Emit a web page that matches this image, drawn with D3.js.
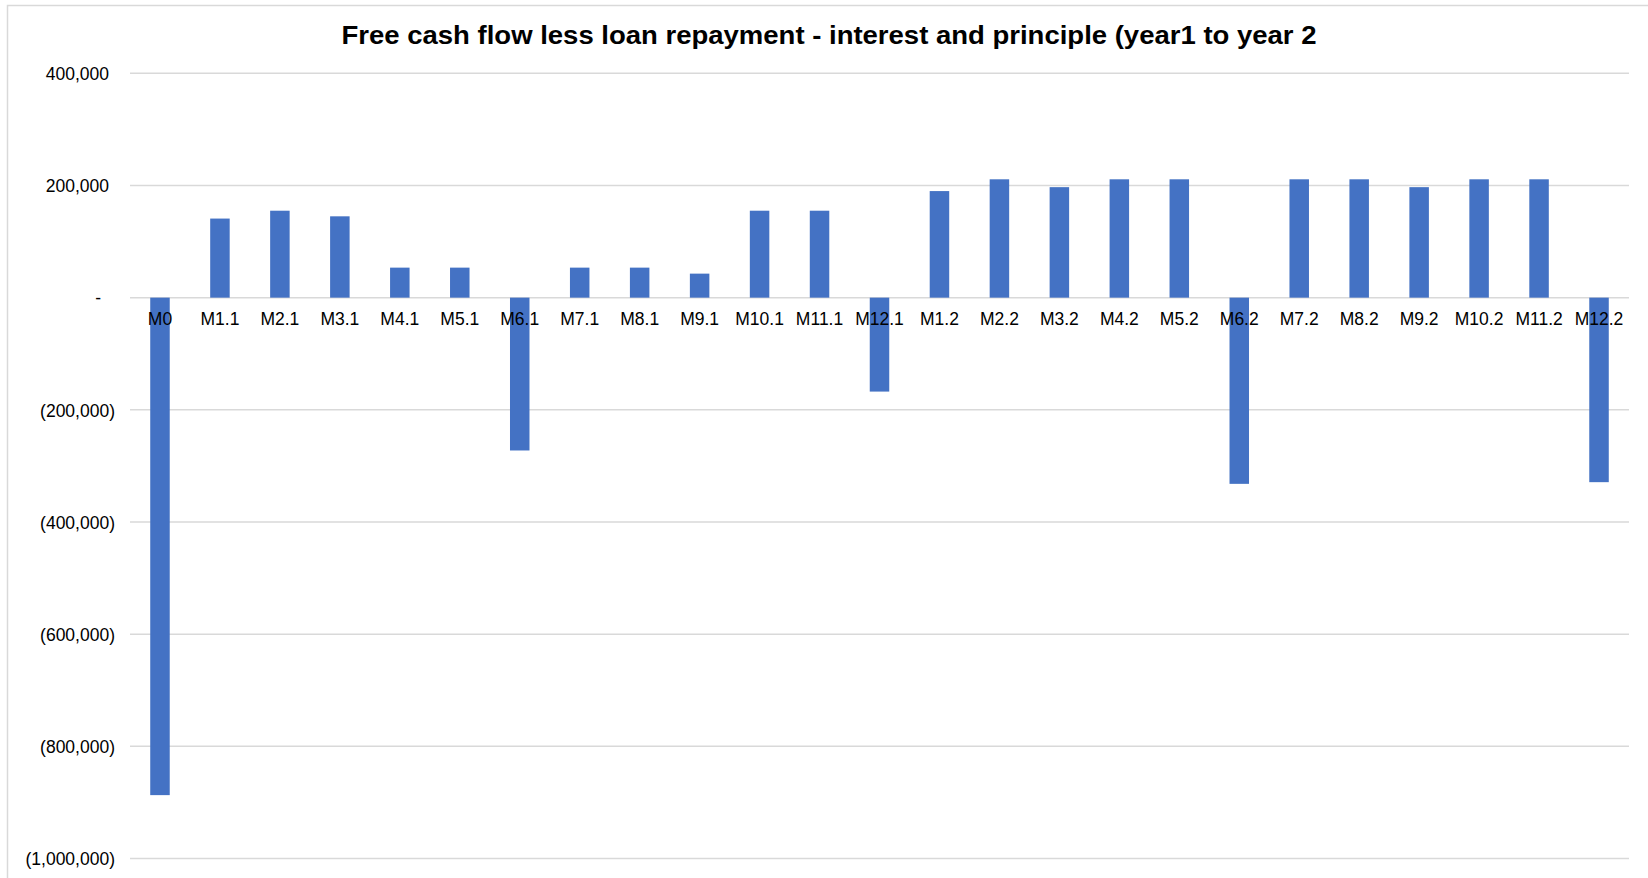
<!DOCTYPE html>
<html>
<head>
<meta charset="utf-8">
<title>Free cash flow less loan repayment</title>
<script src="https://d3js.org/d3.v7.min.js"></script>
<style>
  body { margin: 0; background: #fff; }
  svg text { font-family: "Liberation Sans", Arial, sans-serif; fill: #000; }
</style>
</head>
<body>
<script>
// categories (month.year) and free cash flow values
const months = ["M0", "M1.1", "M2.1", "M3.1", "M4.1", "M5.1", "M6.1", "M7.1", "M8.1", "M9.1", "M10.1", "M11.1", "M12.1",
                "M1.2", "M2.2", "M3.2", "M4.2", "M5.2", "M6.2", "M7.2", "M8.2", "M9.2", "M10.2", "M11.2", "M12.2"];
const cashFlow = [-887000, 141000, 155000, 145000, 53500, 53500, -272500, 53500, 53500, 42800, 155000, 155000, -167500,
                  190000, 211000, 197000, 211000, 211000, -332000, 211000, 211000, 197000, 211000, 211000, -329000];
const yTicks = [400000, 200000, 0, -200000, -400000, -600000, -800000, -1000000];
const title = "Free cash flow less loan repayment - interest and principle (year1 to year 2";

const width = 1648, height = 878;
const plotLeft = 130, plotRight = 1629, plotTop = 73.3, plotBottom = 858.5;

const svg = d3.select('body').append('svg').attr('width', width).attr('height', height);

// chart area border (right and bottom edges fall outside the picture)
svg.append('rect')
    .attr('x', 7.5).attr('y', 5.5).attr('width', 1700).attr('height', 900)
    .attr('fill', 'none').attr('stroke', '#d9d9d9').attr('stroke-width', 1.5);

const x = d3.scaleBand(months, [plotLeft, plotRight]);
const y = d3.scaleLinear([-1000000, 400000], [plotBottom, plotTop]);

// gridlines
svg.append('g')
    .selectAll('line').data(yTicks).join('line')
    .attr('x1', plotLeft).attr('x2', plotRight)
    .attr('y1', d => y(d)).attr('y2', d => y(d))
    .attr('stroke', '#d9d9d9').attr('stroke-width', 1.5);

// value axis labels, accounting style
const fmt = d3.format(',');
const yAxis = d3.axisLeft(y).tickValues(yTicks).tickSize(0).tickPadding(0)
    .tickFormat(d => d === 0 ? '-' : d < 0 ? '(' + fmt(-d) + ')' : fmt(d));
const ya = svg.append('g').attr('transform', `translate(${115},0)`).call(yAxis);
ya.select('.domain').remove();
ya.selectAll('text')
    .style('font-size', '17.5px')
    .attr('font-family', null)
    .attr('dx', d => d === 0 ? -14 : d > 0 ? -6 : 0)
    .attr('dy', '0.36em');

// bars
const barW = 19.5;
svg.append('g')
    .selectAll('rect').data(months).join('rect')
    .attr('x', d => x(d) + x.bandwidth() / 2 - barW / 2)
    .attr('width', barW)
    .attr('y', (d, i) => y(Math.max(0, cashFlow[i])))
    .attr('height', (d, i) => Math.abs(y(cashFlow[i]) - y(0)))
    .attr('fill', '#4472c4');

// category labels sit just under the zero line, over the bars
const xAxis = d3.axisBottom(x).tickSize(0).tickPadding(0);
const xa = svg.append('g').attr('transform', `translate(0,${y(0)})`).call(xAxis);
xa.select('.domain').remove();
xa.selectAll('text')
    .style('font-size', '17.5px')
    .attr('font-family', null)
    .attr('y', 27.5).attr('dy', null);

svg.append('text')
    .attr('x', 829).attr('y', 43.5)
    .attr('text-anchor', 'middle')
    .attr('textLength', 975).attr('lengthAdjust', 'spacingAndGlyphs')
    .style('font-size', '26px').style('font-weight', 'bold')
    .text(title);
</script>
</body>
</html>
